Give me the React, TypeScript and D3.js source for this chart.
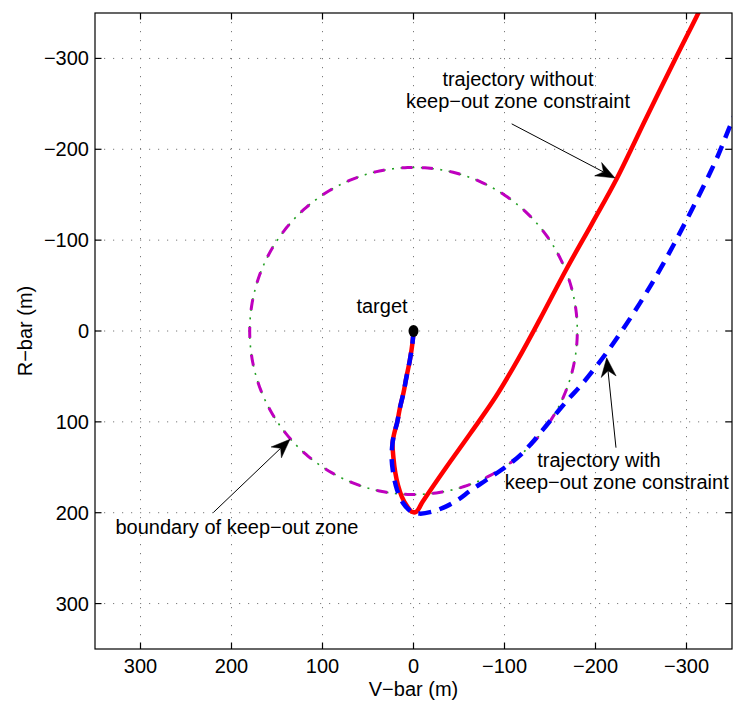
import React from "react";
import * as d3 from "d3";

// ---- data ----
const X_TICKS = [300, 200, 100, 0, -100, -200, -300];
const Y_TICKS = [-300, -200, -100, 0, 100, 200, 300];
const X_DOMAIN = [350, -350];
const Y_DOMAIN = [-350, 350];
const KEEP_OUT_RADIUS = 180;

// trajectory without keep-out constraint (V-bar, R-bar)
const RED_V = [0, 1, 4, 8, 11, 15, 18, 21, 23, 22, 20, 17, 13, 7, 2, -3, -10, -36, -63, -90, -115, -139, -168, -196, -223, -256, -289, -313, -320];
const RED_R = [0, 12, 32, 52, 68, 85, 101, 112, 123, 140, 156, 170, 182, 193, 199, 199, 188, 150, 112, 73, 31, -13, -68, -118, -167, -235, -302, -350, -365];

// trajectory with keep-out constraint
const BLUE_V = [0, 1, 4, 8, 11, 15, 18, 21, 23, 24, 22, 18, 11, 2, -7, -20, -36, -50, -62, -80, -102, -118, -132, -146, -160, -172, -183, -200, -220, -249, -275, -300, -322, -335, -346, -358];
const BLUE_R = [0, 12, 32, 52, 68, 85, 101, 112, 123, 140, 158, 175, 190, 199, 201, 199, 193, 185, 176, 164, 149, 136, 121, 104, 87, 73, 61, 40, 13, -31, -75, -122, -166, -194, -221, -250];

const TARGET = { v: 0, r: 0, label: "target", lv: 34.6, lr: -20.3 };

const ANNOTATIONS = [
  { lines: ["trajectory without", "keep\u2212out zone constraint"], tv: [-114.8, -114.8], tr: [-269.8, -245.9], from: [-107.9, -228], to: [-221.4, -168.4] },
  { lines: ["trajectory with", "keep\u2212out zone constraint"], tv: [-203.8, -223.3], tr: [150, 174.2], from: [-222.5, 128.4], to: [-212.3, 29.5] },
  { lines: ["boundary of keep\u2212out zone"], tv: [194], tr: [223.6], from: [220, 199.8], to: [135.7, 119.2] },
];

const X_LABEL = "V\u2212bar (m)";
const Y_LABEL = "R\u2212bar (m)";

// ---- layout ----
const W = 733, H = 706;
const L = 95, R = 732, T = 13, B = 649;
const FONT = "'Liberation Sans', Arial, Helvetica, sans-serif";
const FS = 20;

const fmt = (v: number) => (v < 0 ? "\u2212" + Math.abs(v) : String(v));

function Arrow({ x1, y1, x2, y2 }: { x1: number; y1: number; x2: number; y2: number }) {
  const dx = x2 - x1, dy = y2 - y1;
  const len = Math.hypot(dx, dy);
  const ux = dx / len, uy = dy / len;
  const px = -uy, py = ux;
  const HL = 19, HW = 7.5, NB = 13;
  const p = (a: number, b: number) => `${x2 + ux * a + px * b},${y2 + uy * a + py * b}`;
  const head = `M${p(0, 0)} L${p(-HL, HW)} L${p(-NB, 0)} L${p(-HL, -HW)} Z`;
  return (
    <g>
      <line x1={x1} y1={y1} x2={x2 - ux * NB} y2={y2 - uy * NB} stroke="#000" strokeWidth={1} />
      <path d={head} fill="#000" stroke="#000" strokeWidth={0.5} />
    </g>
  );
}

export default function App() {
  const x = d3.scaleLinear().domain(X_DOMAIN).range([L, R]);
  const y = d3.scaleLinear().domain(Y_DOMAIN).range([T, B]);

  const line = d3
    .line<[number, number]>()
    .x((d) => x(d[0]))
    .y((d) => y(d[1]))
    .curve(d3.curveCatmullRom.alpha(0.5));

  const red: [number, number][] = RED_V.map((v, i) => [v, RED_R[i]]);
  const blue: [number, number][] = BLUE_V.map((v, i) => [v, BLUE_R[i]]);

  const rx = Math.abs(x(KEEP_OUT_RADIUS) - x(0));
  const ry = Math.abs(y(KEEP_OUT_RADIUS) - y(0));
  // keep-out boundary: starts at the top and goes round the left side first
  const angles = d3.range(0, 361, 1);
  const circD = d3
    .line<number>()
    .x((a) => x(0) - rx * Math.sin((a * Math.PI) / 180))
    .y((a) => y(0) - ry * Math.cos((a * Math.PI) / 180))(angles) as string;

  return (
    <div style={{ position: "absolute", left: 0, top: 0 }}>
      <svg width={W} height={H} style={{ display: "block", background: "#fff" }} fontFamily={FONT}>
        <defs>
          <clipPath id="plotclip">
            <rect x={L} y={T} width={R - L} height={B - T} />
          </clipPath>
        </defs>
        <rect x={0} y={0} width={W} height={H} fill="#fff" />
        {/* grid */}
        <g stroke="#7a7a7a" strokeWidth={1} strokeDasharray="1.2,7.8">
          {X_TICKS.map((t) => (
            <line key={"gx" + t} x1={x(t)} x2={x(t)} y1={T} y2={B} />
          ))}
          {Y_TICKS.map((t) => (
            <line key={"gy" + t} x1={L} x2={R} y1={y(t)} y2={y(t)} />
          ))}
        </g>
        <g clipPath="url(#plotclip)">
          <path d={circD} fill="none" stroke="#22a022" strokeWidth={1.6} strokeDasharray="13,6.5,2,6.5" />
          <path d={circD} fill="none" stroke="#bf00bf" strokeWidth={3} strokeDasharray="11,17" strokeDashoffset={-1} />
          <path d={line(red) as string} fill="none" stroke="#ff0000" strokeWidth={4.5} strokeLinejoin="round" />
          <path d={line(blue) as string} fill="none" stroke="#0000ff" strokeWidth={4.5} strokeDasharray="13,8.7" />
          <ellipse cx={x(TARGET.v)} cy={y(TARGET.r)} rx={5} ry={6} fill="#000" />
        </g>
        {/* annotations */}
        <text x={x(TARGET.lv)} y={y(TARGET.lr)} textAnchor="middle" fontSize={FS} fill="#000">
          {TARGET.label}
        </text>
        {ANNOTATIONS.map((a, i) => (
          <g key={"ann" + i}>
            {a.lines.map((s, j) => (
              <text key={j} x={x(a.tv[j])} y={y(a.tr[j])} textAnchor="middle" fontSize={FS} fill="#000">
                {s}
              </text>
            ))}
            <Arrow x1={x(a.from[0])} y1={y(a.from[1])} x2={x(a.to[0])} y2={y(a.to[1])} />
          </g>
        ))}
        {/* axes box and ticks */}
        <g stroke="#000" strokeWidth={1.2}>
          {X_TICKS.map((t) => (
            <g key={"tx" + t}>
              <line x1={x(t)} x2={x(t)} y1={B} y2={B - 6.5} />
              <line x1={x(t)} x2={x(t)} y1={T} y2={T + 6.5} />
            </g>
          ))}
          {Y_TICKS.map((t) => (
            <g key={"ty" + t}>
              <line x1={L} x2={L + 6.5} y1={y(t)} y2={y(t)} />
              <line x1={R} x2={R - 6.5} y1={y(t)} y2={y(t)} />
            </g>
          ))}
          <rect x={L} y={T} width={R - L} height={B - T} fill="none" />
        </g>
        {/* tick labels */}
        <g fontSize={FS} fill="#000">
          {X_TICKS.map((t) => (
            <text key={"lx" + t} x={x(t)} y={B + 24} textAnchor="middle">
              {fmt(t)}
            </text>
          ))}
          {Y_TICKS.map((t) => (
            <text key={"ly" + t} x={L - 6} y={y(t) + 7} textAnchor="end">
              {fmt(t)}
            </text>
          ))}
        </g>
        <text x={(L + R) / 2} y={696} textAnchor="middle" fontSize={FS} fill="#000">
          {X_LABEL}
        </text>
        <text transform={`translate(31.5, ${(T + B) / 2}) rotate(-90)`} textAnchor="middle" fontSize={FS} fill="#000">
          {Y_LABEL}
        </text>
      </svg>
    </div>
  );
}
